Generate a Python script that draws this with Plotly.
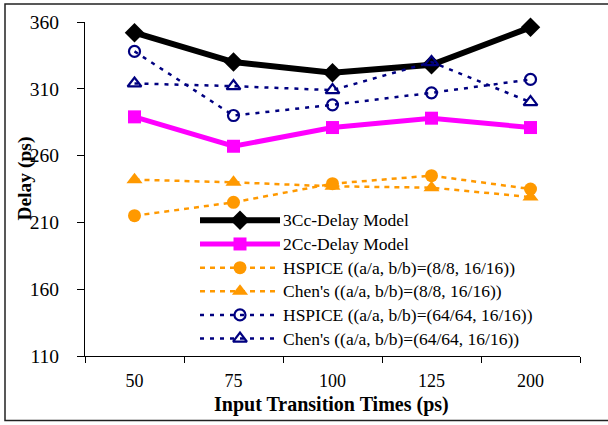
import plotly.graph_objects as go

categories = ["50", "75", "100", "125", "200"]
delay_3cc = [352, 330, 322, 328, 356]
delay_2cc = [289, 267, 281, 288, 281]
hspice_8 = [215, 225, 239, 245, 235]
chen_8 = [242, 240, 237, 236, 229]
hspice_64 = [338, 290, 298, 307, 317]
chen_64 = [314, 312, 309, 330, 300]
y_ticks = [110, 160, 210, 260, 310, 360]

names = ["3Cc-Delay Model", "2Cc-Delay Model",
         "HSPICE ((a/a, b/b)=(8/8, 16/16))", "Chen's ((a/a, b/b)=(8/8, 16/16))",
         "HSPICE ((a/a, b/b)=(64/64, 16/16))", "Chen's ((a/a, b/b)=(64/64, 16/16))"]
series = [delay_3cc, delay_2cc, hspice_8, chen_8, hspice_64, chen_64]

FONT = "Times New Roman, Liberation Serif, DejaVu Serif, serif"
ORANGE = "#FF9900"
NAVY = "#000080"
styles = [
    dict(line=dict(color="black", width=6), marker=dict(symbol="diamond", size=15, color="black")),
    dict(line=dict(color="#FF00FF", width=5), marker=dict(symbol="square", size=13, color="#FF00FF")),
    dict(line=dict(color=ORANGE, width=2.5, dash="5px,5px"), marker=dict(symbol="circle", size=13, color=ORANGE)),
    dict(line=dict(color=ORANGE, width=2.5, dash="5px,5px"), marker=dict(symbol="triangle-up", size=14, color=ORANGE)),
    dict(line=dict(color=NAVY, width=2.5, dash="4px,6px"), marker=dict(symbol="circle-open", size=11, color=NAVY, line=dict(width=2.2, color=NAVY))),
    dict(line=dict(color=NAVY, width=2.5, dash="4px,6px"), marker=dict(symbol="triangle-up-open", size=12, color=NAVY, line=dict(width=2.2, color=NAVY))),
]

W, H = 608, 425
L, R, T, B = 85, 580, 20, 356

fig = go.Figure()
for name, vals, st in zip(names, series, styles):
    fig.add_trace(go.Scatter(x=categories, y=vals, mode="lines+markers", name=name,
                             showlegend=False, cliponaxis=False, **st))

# custom legend drawn on a pixel-space overlay axis
annotations = []
for i, (name, st) in enumerate(zip(names, styles)):
    yy = 219.5 + i * 23.8
    fig.add_trace(go.Scatter(x=[200, 240, 280], y=[yy, yy, yy], mode="lines", line=st["line"],
                             xaxis="x2", yaxis="y2", showlegend=False, hoverinfo="skip"))
    fig.add_trace(go.Scatter(x=[240], y=[yy], mode="markers", marker=st["marker"],
                             xaxis="x2", yaxis="y2", showlegend=False, hoverinfo="skip"))
    annotations.append(dict(x=281, y=yy, xref="x2", yref="y2", text=name, showarrow=False,
                            xanchor="left", yanchor="middle",
                            font=dict(family=FONT, size=17.5, color="black")))

def px(x):
    return (x - L) / (R - L)

def py(y):
    return (B - y) / (B - T)

annotations.append(dict(x=px(331), y=py(405), xref="paper", yref="paper",
                        text="<b>Input Transition Times (ps)</b>", showarrow=False,
                        xanchor="center", yanchor="middle",
                        font=dict(family=FONT, size=20, color="black")))
annotations.append(dict(x=px(25.5), y=py(178), xref="paper", yref="paper",
                        text="<b>Delay (ps)</b>", showarrow=False, textangle=-90,
                        xanchor="center", yanchor="middle",
                        font=dict(family=FONT, size=19.5, color="black")))

fig.update_layout(
    width=W, height=H,
    margin=dict(l=L, r=W - R, t=T, b=H - B),
    paper_bgcolor="white", plot_bgcolor="white",
    font=dict(family=FONT, size=17, color="black"),
    xaxis=dict(type="category", categoryorder="array", categoryarray=categories,
               range=[-0.5, 4.5], tickson="boundaries", ticks="outside", ticklen=6,
               tickcolor="black", showline=True, linecolor="black", linewidth=1,
               showgrid=False, zeroline=False, ticklabelstandoff=8,
               tickfont=dict(family=FONT, size=18)),
    yaxis=dict(range=[110, 360], tickvals=y_ticks, ticks="outside", ticklen=7,
               tickcolor="black", showline=True, linecolor="black", linewidth=1,
               showgrid=False, zeroline=False, ticklabelstandoff=14,
               tickfont=dict(family=FONT, size=19.5)),
    xaxis2=dict(range=[L, R], domain=[0, 1], overlaying="x", visible=False, fixedrange=True),
    yaxis2=dict(range=[B, T], domain=[0, 1], overlaying="y", visible=False, fixedrange=True),
    annotations=annotations,
    shapes=[dict(type="rect", xref="paper", yref="paper",
                 x0=px(5), x1=px(620), y0=py(421), y1=py(2),
                 line=dict(color="#222222", width=1.5), fillcolor="rgba(0,0,0,0)")],
    showlegend=False,
)

fig.write_html("out.html", config={"displayModeBar": False},
               post_script="document.body.style.margin='0';")
